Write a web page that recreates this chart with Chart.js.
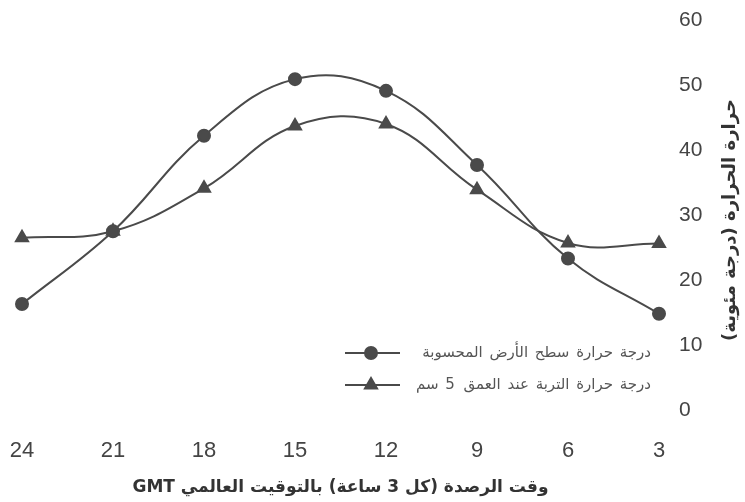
<!DOCTYPE html>
<html lang="ar">

<head>
    <meta charset="UTF-8" />
    <title>درجة الحرارة</title>
    <script src="https://cdn.jsdelivr.net/npm/chart.js"></script>
    <style>
        body {
            margin: 0;
            background: #ffffff;
        }

        .wrap {
            width: 745px;
            height: 502px;
            position: relative;
        }
    </style>
</head>

<body>
    <div class="wrap">
        <canvas id="tempChart" dir="rtl"></canvas>
    </div>

    <script>
        // ساعات الرصد (من اليسار إلى اليمين)
        const hours = ['24', '21', '18', '15', '12', '9', '6', '3'];
        // درجة حرارة سطح الأرض المحسوبة
        const surfaceTemp = [16.3, 27.5, 42.2, 50.9, 49.1, 37.7, 23.3, 14.8];
        // درجة حرارة التربة عند العمق 5 سم
        const soilTemp = [26.5, 27.5, 34.1, 43.7, 44.0, 33.9, 25.7, 25.6];
        const yTicks = [0, 10, 20, 30, 40, 50, 60];

        const surfaceLabel = 'درجة حرارة سطح الأرض المحسوبة';
        const soilLabel = 'درجة حرارة التربة عند العمق 5 سم';
        const xTitle = 'وقت الرصدة (كل 3 ساعة) بالتوقيت العالمي GMT';
        const yTitle = 'حرارة الحرارة (درجة مئوية)';

        const lineColor = '#4a4a4a';
        const textColor = '#444444';

        // عنوان المحور الرأسي + مفتاح الرسم داخل المنطقة
        const extras = {
            id: 'extras',
            afterDraw(chart) {
                const ctx = chart.ctx;

                // عنوان المحور y مدار -90 درجة
                ctx.save();
                ctx.translate(730, 220);
                ctx.rotate(-Math.PI / 2);
                ctx.direction = 'rtl';
                ctx.textAlign = 'center';
                ctx.textBaseline = 'middle';
                ctx.fillStyle = '#333333';
                ctx.font = 'bold 18px "DejaVu Sans", sans-serif';
                ctx.fillText(yTitle, 0, 0);
                ctx.restore();

                // المفتاح
                const rows = [
                    { ds: chart.data.datasets[0], y: 353 },
                    { ds: chart.data.datasets[1], y: 385 }
                ];
                rows.forEach(r => {
                    ctx.save();
                    ctx.strokeStyle = lineColor;
                    ctx.lineWidth = 2;
                    ctx.beginPath();
                    ctx.moveTo(345, r.y);
                    ctx.lineTo(400, r.y);
                    ctx.stroke();
                    ctx.fillStyle = lineColor;
                    Chart.helpers.drawPoint(ctx, {
                        pointStyle: r.ds.pointStyle,
                        radius: r.ds.pointRadius,
                        rotation: 0,
                        borderWidth: 1
                    }, 371, r.y);
                    ctx.direction = 'rtl';
                    ctx.textAlign = 'right';
                    ctx.textBaseline = 'middle';
                    ctx.fillStyle = '#555555';
                    ctx.font = '15px "DejaVu Sans", sans-serif';
                    ctx.letterSpacing = '2px';
                    ctx.fillText(r.ds.label, 651, r.y);
                    ctx.restore();
                });
            }
        };

        const tempChart = new Chart(document.getElementById('tempChart'), {
            type: 'line',
            data: {
                labels: hours,
                datasets: [
                    {
                        label: surfaceLabel,
                        data: surfaceTemp,
                        borderColor: lineColor,
                        backgroundColor: lineColor,
                        borderWidth: 2,
                        pointStyle: 'circle',
                        pointRadius: 6,
                        pointBackgroundColor: lineColor,
                        pointBorderColor: lineColor,
                        tension: 0.4
                    },
                    {
                        label: soilLabel,
                        data: soilTemp,
                        borderColor: lineColor,
                        backgroundColor: lineColor,
                        borderWidth: 2,
                        pointStyle: 'triangle',
                        pointRadius: 7,
                        pointBackgroundColor: lineColor,
                        pointBorderColor: lineColor,
                        tension: 0.4
                    }
                ]
            },
            options: {
                responsive: true,
                maintainAspectRatio: false,
                animation: false,
                layout: {
                    padding: { left: 22, top: 20, right: 0, bottom: 0 }
                },
                plugins: {
                    legend: { display: false },
                    tooltip: { enabled: false }
                },
                scales: {
                    x: {
                        offset: false,
                        grid: { display: false, drawTicks: true, tickLength: 28 },
                        border: { display: false },
                        ticks: {
                            color: textColor,
                            padding: 0,
                            maxRotation: 0,
                            font: { family: '"Liberation Sans", Arial, sans-serif', size: 22 }
                        },
                        title: {
                            display: true,
                            text: xTitle,
                            color: '#333333',
                            padding: { top: 0, bottom: 4 },
                            font: { family: '"DejaVu Sans", sans-serif', size: 17, weight: 'bold' }
                        },
                        afterFit: s => { s.height = 92; }
                    },
                    y: {
                        position: 'right',
                        min: 0,
                        max: 60,
                        grid: { display: false, drawTicks: true, tickLength: 20 },
                        border: { display: false },
                        afterBuildTicks: s => { s.ticks = yTicks.map(v => ({ value: v })); },
                        ticks: {
                            color: textColor,
                            padding: 0,
                            font: { family: '"Liberation Sans", Arial, sans-serif', size: 21 }
                        },
                        afterFit: s => { s.width = 86; }
                    }
                }
            },
            plugins: [extras]
        });
    </script>
</body>

</html>
